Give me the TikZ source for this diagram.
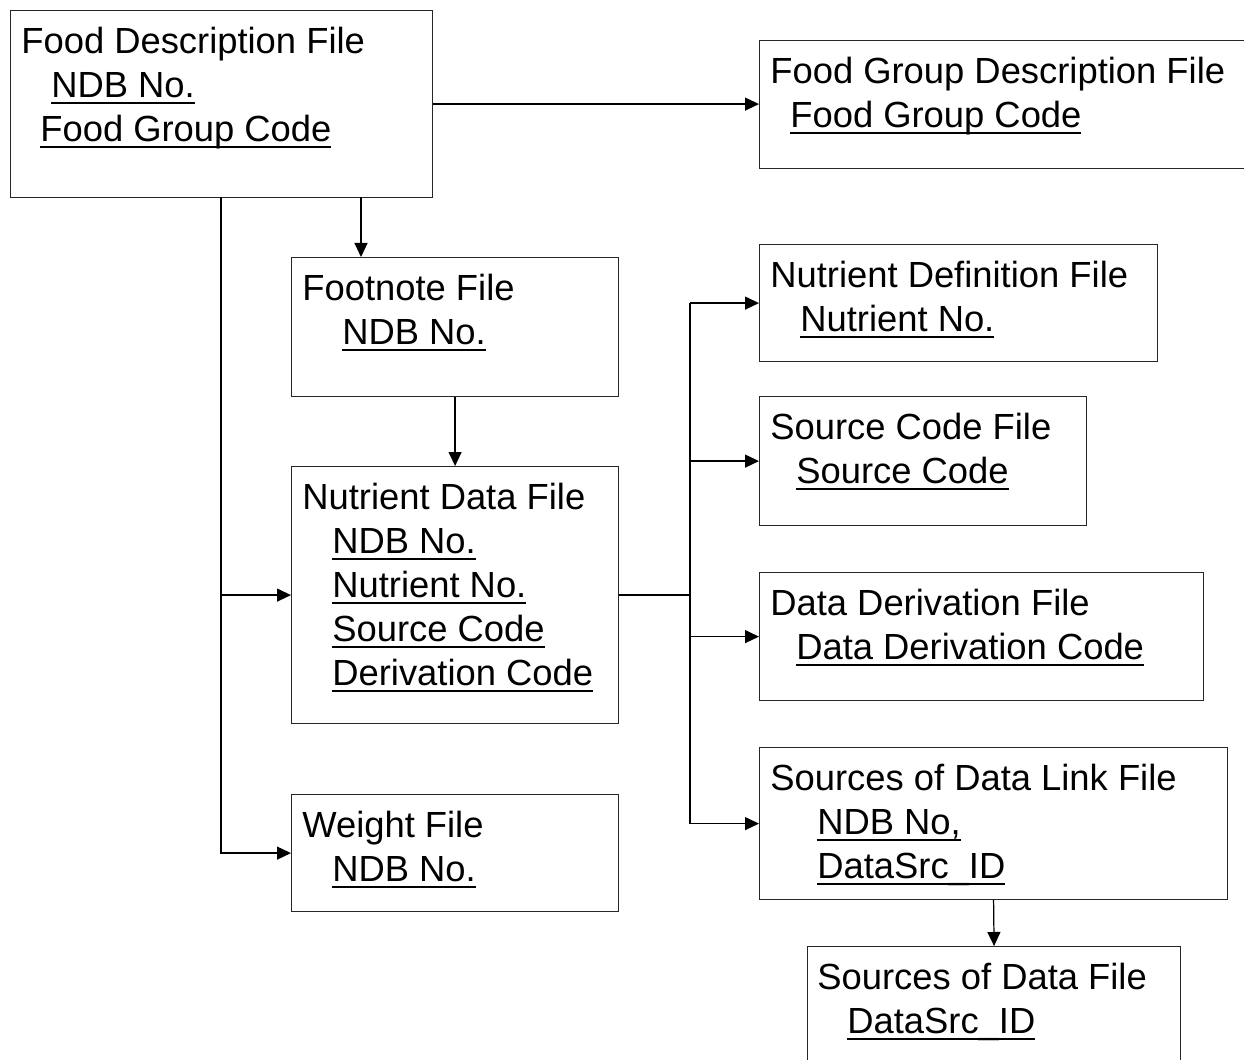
\documentclass[tikz,border=0pt]{standalone}
\usepackage{fontspec}
\setmainfont{Liberation Sans}
\usetikzlibrary{arrows.meta,positioning}

\newcommand{\keyfield}[1]{\setbox0\hbox{#1}\rlap{\rule[-3.8pt]{\wd0}{1.2pt}}\box0}

\begin{document}
\begin{tikzpicture}[x=0.02cm, y=-0.02cm]

% definitions
\tikzstyle{filebox} = [rectangle, anchor=north west, inner sep=0pt, draw=black!85, line width=0.7pt]

\tikzstyle{filetext} = [anchor=north west, inner sep=0pt, align=left, font=\fontsize{20.7}{25}\selectfont, xshift=0.22cm, yshift=-0.34cm]

\tikzstyle{line} = [line width=0.7pt]

\tikzstyle{arrow} = [->,>={Triangle[length=0.28cm,width=0.26cm]}, line width=0.7pt]

\useasboundingbox (0,0) rectangle (1244,1060);
\clip (0,0) rectangle (1244,1060);

% the graph
\node (fooddesc) [filebox, minimum width=8.44cm, minimum height=3.74cm] at (10,10) {};
\node (fooddesc-txt) [filetext] at (fooddesc.north west) {Food Description File\\ \hspace*{0.6cm}\keyfield{NDB No.}\\ \hspace*{0.38cm}\keyfield{Food Group Code}};

\node (fgdesc) [filebox, minimum width=10cm, minimum height=2.56cm] at (759,40) {};
\node (fgdesc-txt) [filetext] at (fgdesc.north west) {Food Group Description File\\ \hspace*{0.4cm}\keyfield{Food Group Code}};

\node (footnote) [filebox, minimum width=6.54cm, minimum height=2.78cm] at (291,257) {};
\node (footnote-txt) [filetext] at (footnote.north west) {Footnote File\\ \hspace*{0.8cm}\keyfield{NDB No.}};

\node (nutdata) [filebox, minimum width=6.54cm, minimum height=5.14cm] at (291,466) {};
\node (nutdata-txt) [filetext] at (nutdata.north west) {Nutrient Data File\\ \hspace*{0.6cm}\keyfield{NDB No.}\\ \hspace*{0.6cm}\keyfield{Nutrient No.}\\ \hspace*{0.6cm}\keyfield{Source Code}\\ \hspace*{0.6cm}\keyfield{Derivation Code}};

\node (weight) [filebox, minimum width=6.54cm, minimum height=2.34cm] at (291,794) {};
\node (weight-txt) [filetext] at (weight.north west) {Weight File\\ \hspace*{0.6cm}\keyfield{NDB No.}};

\node (nutdef) [filebox, minimum width=7.96cm, minimum height=2.34cm] at (759,244) {};
\node (nutdef-txt) [filetext] at (nutdef.north west) {Nutrient Definition File\\ \hspace*{0.6cm}\keyfield{Nutrient No.}};

\node (srccode) [filebox, minimum width=6.54cm, minimum height=2.58cm] at (759,396) {};
\node (srccode-txt) [filetext] at (srccode.north west) {Source Code File\\ \hspace*{0.52cm}\keyfield{Source Code}};

\node (deriv) [filebox, minimum width=8.88cm, minimum height=2.56cm] at (759,572) {};
\node (deriv-txt) [filetext] at (deriv.north west) {Data Derivation File\\ \hspace*{0.52cm}\keyfield{Data Derivation Code}};

\node (srclink) [filebox, minimum width=9.36cm, minimum height=3.04cm] at (759,747) {};
\node (srclink-txt) [filetext] at (srclink.north west) {Sources of Data Link File\\ \hspace*{0.94cm}\keyfield{NDB No,}\\ \hspace*{0.94cm}\keyfield{DataSrc\_ID}};

\node (srcdata) [filebox, minimum width=7.46cm, minimum height=2.6cm] at (807,946) {};
\node (srcdata-txt) [filetext, xshift=-0.02cm] at (srcdata.north west) {Sources of Data File\\ \hspace*{0.6cm}\keyfield{DataSrc\_ID}};

% branch points
\coordinate (fdtrunk) at (221,197);
\coordinate (fdfoot) at (361,197);
\coordinate (bus) at (690,595);

\draw [arrow] (fooddesc.east) -- (fooddesc.east -| fgdesc.west);
\draw [arrow] (fdfoot) -- (fdfoot |- footnote.north);
\draw [arrow] (fdtrunk) |- (weight.west);
\draw [arrow] (fdtrunk |- nutdata.west) -- (nutdata.west);
\draw [arrow] (footnote.south) -- (nutdata.north);

\draw [line] (nutdata.east) -- (bus |- nutdata.east);
\draw [line] (bus |- nutdef.west) -- (bus |- srclink.west);
\draw [arrow] (bus |- nutdef.west) -- (nutdef.west);
\draw [arrow] (bus |- srccode.west) -- (srccode.west);
\draw [arrow] (bus |- deriv.west) -- (deriv.west);
\draw [arrow] (bus |- srclink.west) -- (srclink.west);

\draw [arrow] (srclink.south) -- (srcdata.north);

\end{tikzpicture}
\end{document}
